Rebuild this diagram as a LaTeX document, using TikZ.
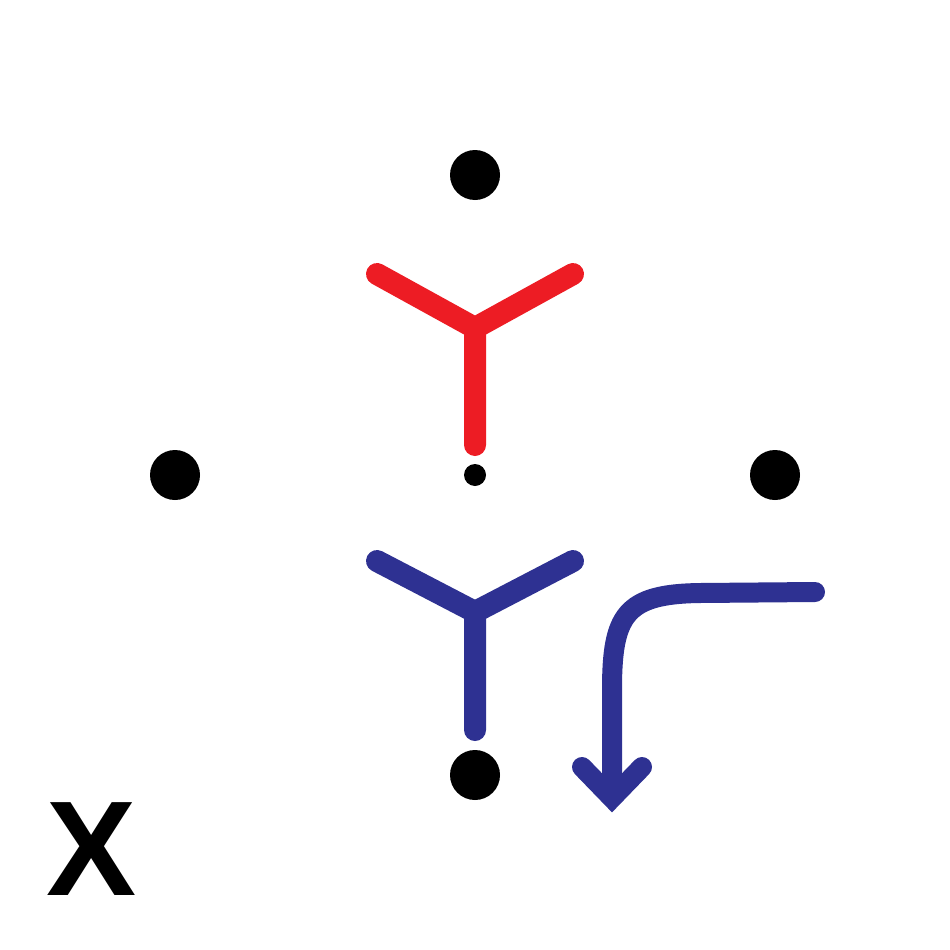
\documentclass[tikz,border=0pt]{standalone}
\usepackage{fontspec}
\setmainfont{Liberation Sans}
\definecolor{yred}{HTML}{ED1C24}
\definecolor{yblue}{HTML}{2E3192}
\begin{document}
\begin{tikzpicture}[x=1pt,y=-1pt,
  bigdot/.style={circle,fill=black,inner sep=0pt,minimum size=50pt},
  smalldot/.style={circle,fill=black,inner sep=0pt,minimum size=22pt},
  ystroke/.style={line width=22pt,line cap=round,line join=round},
  arrstroke/.style={line width=20pt,line cap=round,color=yblue}]
\useasboundingbox[fill=white] (0,0) rectangle (950,950);
\node[bigdot] (top) at (475,175) {};
\node[bigdot] (left) at (175,475) {};
\node[bigdot] (right) at (775,475) {};
\node[bigdot] (bottom) at (475,775) {};
\node[smalldot] (center) at (475,475) {};
% red Y
\coordinate (rj) at (475,328);
\coordinate (rl) at (377,274);
\coordinate (rr) at (573,274);
\coordinate (rs) at (475,445);
\draw[ystroke,yred] (rl) -- (rj) -- (rr) (rj) -- (rs);
% blue Y
\coordinate (bj) at (475,612);
\coordinate (bl) at (377,561);
\coordinate (br) at (573,561);
\coordinate (bs) at (475,730);
\draw[ystroke,yblue] (bl) -- (bj) -- (br) (bj) -- (bs);
% curved arrow
\coordinate (as) at (815,592);
\coordinate (ac) at (700,593);
\coordinate (av) at (612,690);
\coordinate (ae) at (612,795);
\draw[arrstroke] (as) -- (ac) .. controls (625,594) and (612,615) .. (av) -- (ae);
\coordinate (hl) at (582,767);
\coordinate (ht) at (612,798);
\coordinate (hr) at (642,767);
\draw[arrstroke,line join=miter] (hl) -- (ht) -- (hr);
% X label
\node[inner sep=0pt,font=\bfseries\fontsize{135}{135}\selectfont] (xlabel) at (92,849) {X};
\end{tikzpicture}
\end{document}
